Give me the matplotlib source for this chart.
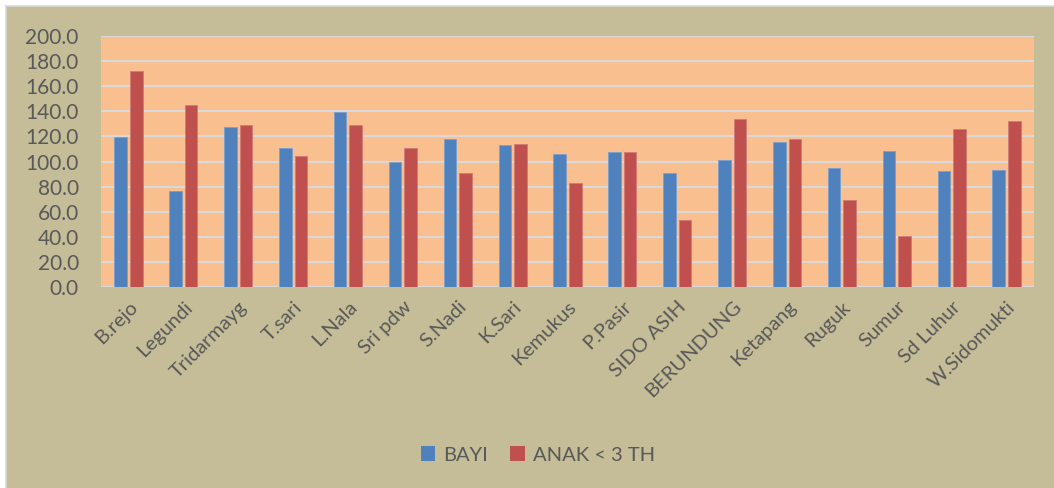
import matplotlib
matplotlib.use('Agg')
import matplotlib.pyplot as plt
import matplotlib.patches as mpatches
import numpy as np

# Data
categories = ['B.rejo', 'Legundi', 'Tridarmayg', 'T.sari', 'L.Nala', 'Sri pdw', 'S.Nadi',
              'K.Sari', 'Kemukus', 'P.Pasir', 'SIDO ASIH', 'BERUNDUNG', 'Ketapang',
              'Ruguk', 'Sumur', 'Sd Luhur', 'W.Sidomukti']
bayi = [119.5, 76.2, 127.2, 110.5, 139.4, 99.9, 117.7, 113.4, 105.7, 107.3,
        90.6, 101.2, 115.3, 94.6, 108.1, 92.2, 93.0]
anak = [172.1, 144.8, 129.3, 104.1, 128.8, 110.5, 90.8, 114.2, 82.6, 107.8,
        53.1, 134.1, 117.9, 69.6, 40.4, 125.9, 132.0]
series_names = ['BAYI', 'ANAK < 3 TH']
y_ticks = [0, 20, 40, 60, 80, 100, 120, 140, 160, 180, 200]

plt.rcParams['font.family'] = ['Lato', 'DejaVu Sans']
text_color = '#595959'

fig = plt.figure(figsize=(10.54, 4.88), dpi=100)
fig.patch.set_facecolor('white')
# tan chart area with a faint border
fig.patches.append(mpatches.Rectangle((6 / 1054, -0.01), 1.02, 1 - 6 / 488 + 0.01,
                                      transform=fig.transFigure, facecolor='#C4BD97',
                                      edgecolor='#D9D9D9', linewidth=1.2, zorder=-10))

ax = fig.add_axes([101 / 1054, 1 - 287 / 488, (1034 - 101) / 1054, (287 - 36) / 488])
ax.set_facecolor('#FABF8F')

x = np.arange(len(categories))
w = 0.23
off = 0.142
ax.bar(x - off, bayi, width=w, color='#4F81BD', edgecolor='#7A9FCF', linewidth=0.6,
       label=series_names[0], zorder=3)
ax.bar(x + off, anak, width=w, color='#C0504D', edgecolor='#D07A77', linewidth=0.6,
       label=series_names[1], zorder=3)

ax.set_xlim(-0.5, len(categories) - 0.5)
ax.set_ylim(0, 200)
ax.set_yticks(y_ticks)
ax.set_yticklabels([f'{v:.1f}' for v in y_ticks], fontsize=15, color=text_color)
ax.yaxis.grid(True, color='#D9D9D9', linewidth=1.5, zorder=1)
ax.set_axisbelow(True)
ax.tick_params(axis='y', length=0, pad=16)
ax.tick_params(axis='x', length=0, pad=8)
for s in ax.spines.values():
    s.set_visible(False)
ax.axhline(0, color='#D9D9D9', linewidth=1.5, zorder=2)

ax.set_xticks(x)
ax.set_xticklabels(categories, rotation=45, ha='right', rotation_mode='anchor',
                   fontsize=14.5, color=text_color)

handles = [mpatches.Patch(facecolor='#4F81BD', edgecolor='none'),
           mpatches.Patch(facecolor='#C0504D', edgecolor='none')]
leg = fig.legend(handles, series_names, loc='center',
                 bbox_to_anchor=(538 / 1054, 1 - 455 / 488), ncol=2,
                 frameon=False, fontsize=14.5, handlelength=0.7, handleheight=0.7,
                 handletextpad=0.4, columnspacing=1.1)
for t in leg.get_texts():
    t.set_color(text_color)

fig.savefig('out.png', dpi=100, facecolor=fig.get_facecolor())
